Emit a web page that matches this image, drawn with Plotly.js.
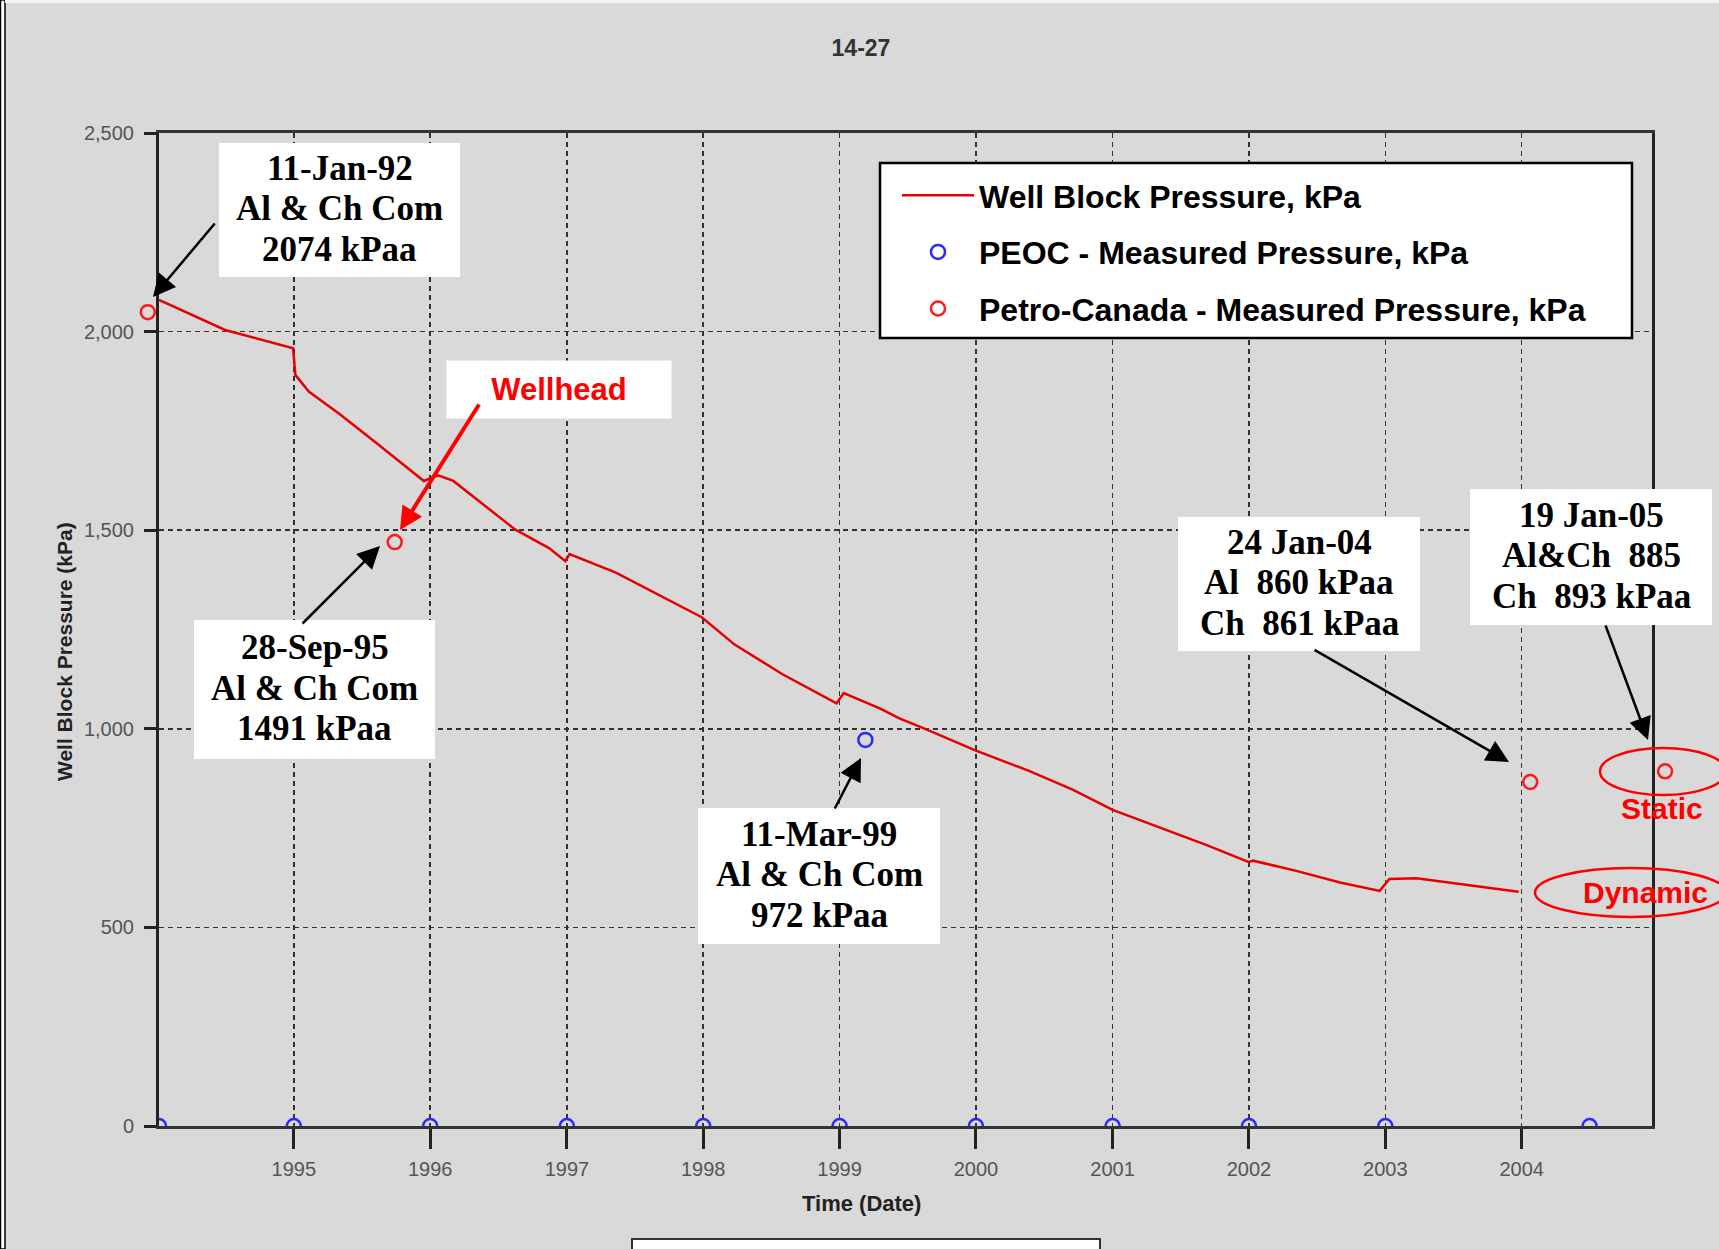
<!DOCTYPE html>
<html><head><meta charset="utf-8">
<script src="https://cdn.plot.ly/plotly-3.0.1.min.js"></script>
<style>html,body{margin:0;padding:0;background:#d9d9d9;} #chart{width:1719px;height:1249px;}</style>
</head><body><div id="chart"></div>
<script>
// ---- data ----
const wbpDates = ['1994-01-05','1994-07-01','1994-12-30','1995-01-05','1995-02-10','1995-05-05','1995-08-15','1995-12-15','1996-01-22','1996-03-03','1996-08-15','1996-11-14','1996-12-28','1997-01-08','1997-05-12','1997-12-28','1998-03-26','1998-07-31','1998-12-24','1999-01-12','1999-04-20','1999-06-10','1999-08-18','2000-01-01','2000-05-22','2000-09-16','2001-01-01','2001-05-16','2001-09-10','2002-01-01','2002-01-12','2002-05-05','2002-09-02','2002-12-17','2003-01-12','2003-03-25','2003-08-25','2003-12-24'];
const wbpPressure = [2080,2004,1958,1891,1849,1791,1716,1624,1638,1624,1502,1455,1422,1440,1393,1281,1212,1138,1064,1090,1051,1026,1000,945,894,847,796,749,707,664,668,643,613,592,622,624,605,590];
const peocDates = ['1994-01-05','1995-01-01','1996-01-01','1997-01-01','1998-01-01','1999-01-01','1999-03-11','2000-01-01','2001-01-01','2002-01-01','2003-01-01','2004-07-01'];
const peocPressure = [0,0,0,0,0,0,972,0,0,0,0,0];
const pcDates = ['1993-12-06','1995-09-28','2004-01-24','2005-01-19'];
const pcPressure = [2049,1470,866,893];
const xTickDates = ['1995-01-01','1996-01-01','1997-01-01','1998-01-01','1999-01-01','2000-01-01','2001-01-01','2002-01-01','2003-01-01','2004-01-01'];
const xTickLabels = ['1995','1996','1997','1998','1999','2000','2001','2002','2003','2004'];
const yTickValues = [0,500,1000,1500,2000,2500];
const seriesNames = ['Well Block Pressure, kPa','PEOC - Measured Pressure, kPa','Petro-Canada - Measured Pressure, kPa'];
const xRange = ['1994-01-05','2004-12-15'];
const yRange = [0,2500];

// ---- geometry helpers (pixel -> paper) ----
const PL=100, PR=1719;            // paper area (margins)
const L=159, R=1652, T=133, B=1126;  // axes box
const PW=PR-PL, H=B-T;
const px = p => (p-PL)/PW;
const py = p => (B-p)/H;

// wider hidden x axis with the same scale, so the markers just outside the box are shown
const t0 = Date.parse(xRange[0]), t1 = Date.parse(xRange[1]);
const msPerPx = (t1-t0)/(R-L);
const x2Range = [t0-(L-PL)*msPerPx, t1+(PR-R)*msPerPx];

const traces = [
  {x: wbpDates, y: wbpPressure, type:'scatter', mode:'lines', name: seriesNames[0],
   line:{color:'#e60000', width:2.5}, legendgroup:'a'},
  {x: peocDates, y: peocPressure, type:'scatter', mode:'markers', name: seriesNames[1],
   marker:{symbol:'circle-open', size:14, color:'#2a2aff', line:{width:2.5}}, legendgroup:'b'},
  {x: pcDates, y: pcPressure, type:'scatter', mode:'markers', name: seriesNames[2], xaxis:'x2', yaxis:'y2',
   marker:{symbol:'circle-open', size:14, color:'#ff1a1a', line:{width:2.5}}, legendgroup:'c'}
];

const serif = {family:'Liberation Serif, Times New Roman, serif', size:35, color:'#000'};
const sans = 'Liberation Sans, Arial, sans-serif';

const boxes = [
  {lines:['11-Jan-92','Al & Ch Com','2074 kPaa'], x0:219, x1:460, y0:143, y1:277},
  {lines:['28-Sep-95','Al & Ch Com','1491 kPaa'], x0:194, x1:435, y0:620, y1:759},
  {lines:['11-Mar-99','Al & Ch Com','972 kPaa'], x0:698, x1:940, y0:808, y1:944},
  {lines:['24 Jan-04','Al\u00a0 860 kPaa','Ch\u00a0 861 kPaa'], x0:1178, x1:1420, y0:517, y1:651},
  {lines:['19 Jan-05','Al&Ch\u00a0 885','Ch\u00a0 893 kPaa'], x0:1470, x1:1712, y0:489, y1:625}
];
const lineOffsets = [-42, -1.5, 39];
const arrows = [
  {hx:153, hy:297, tx:216, ty:222, color:'#000', w:2.5, s:1.8},
  {hx:400, hy:530, tx:480, ty:403, color:'#ff0000', w:4, s:1.15},
  {hx:380, hy:546, tx:301, ty:625, color:'#000', w:2.5, s:1.8},
  {hx:861, hy:758, tx:834, ty:810, color:'#000', w:2.5, s:1.8},
  {hx:1509, hy:762, tx:1313, ty:649, color:'#000', w:2.5, s:1.8},
  {hx:1648, hy:740, tx:1605, ty:624, color:'#000', w:2.5, s:1.8}
];

const annotations = [];
const shapes = [];
boxes.forEach(b => {
  shapes.push({type:'rect', xref:'paper', yref:'paper', x0:px(b.x0), x1:px(b.x1), y0:py(b.y1), y1:py(b.y0),
    fillcolor:'#ffffff', line:{width:0}, layer:'above'});
  const cx=(b.x0+b.x1)/2, cy=(b.y0+b.y1)/2;
  b.lines.forEach((t,i) => annotations.push({
    xref:'paper', yref:'paper', x:px(cx), y:py(cy+lineOffsets[i]), xanchor:'center', yanchor:'middle',
    text:'<b>'+t.replace(/&/g,'&amp;')+'</b>', showarrow:false, font:serif
  }));
});
annotations.push({xref:'paper', yref:'paper', x:px(559), y:py(389.5), xanchor:'center', yanchor:'middle',
  text:'<b>Wellhead</b>', showarrow:false, bgcolor:'#ffffff', borderpad:0, width:224, height:57,
  font:{family:sans, size:31, color:'#ff0000'}});
arrows.forEach(a => annotations.push({
  xref:'paper', yref:'paper', x:px(a.hx), y:py(a.hy), text:'', showarrow:true,
  ax:a.tx-a.hx, ay:a.ty-a.hy, axref:'pixel', ayref:'pixel',
  arrowhead:2, arrowsize:a.s, arrowwidth:a.w, arrowcolor:a.color, standoff:0, startstandoff:0
}));
annotations.push({xref:'paper', yref:'paper', x:px(1662), y:py(808), xanchor:'center', yanchor:'middle',
  text:'<b>Static</b>', showarrow:false, font:{family:sans, size:30, color:'#ff0000'}});
annotations.push({xref:'paper', yref:'paper', x:px(1645), y:py(892), xanchor:'center', yanchor:'middle',
  text:'<b>Dynamic</b>', showarrow:false, font:{family:sans, size:30, color:'#ff0000'}});
// axis titles
annotations.push({xref:'paper', yref:'paper', x:px(861), y:py(1203), xanchor:'center', yanchor:'middle',
  text:'<b>Time (Date)</b>', showarrow:false, font:{family:sans, size:22, color:'#222'}});
annotations.push({xref:'paper', yref:'paper', x:px(64), y:py(652), xanchor:'center', yanchor:'middle',
  text:'<b>Well Block Pressure (kPa)</b>', textangle:-90, showarrow:false, font:{family:sans, size:21, color:'#222'}});

shapes.push(
  // legend box
  {type:'rect', xref:'paper', yref:'paper', x0:px(880), x1:px(1632), y0:py(338), y1:py(163),
   fillcolor:'#ffffff', line:{color:'#000', width:2.5}, layer:'above'},
  // ellipses
  {type:'circle', xref:'paper', yref:'paper', x0:px(1600), x1:px(1726), y0:py(795), y1:py(748),
   line:{color:'#ff0000', width:2.5}, layer:'above'},
  {type:'circle', xref:'paper', yref:'paper', x0:px(1535), x1:px(1726), y0:py(917), y1:py(868),
   line:{color:'#ff0000', width:2.5}, layer:'above'},
  // page border on the left
  {type:'rect', xref:'paper', yref:'paper', x0:px(0.5), x1:px(5), y0:py(1249), y1:py(0),
   fillcolor:'#ffffff', line:{color:'#000', width:1.5}, layer:'above'},
  // top light strip
  {type:'rect', xref:'paper', yref:'paper', x0:px(5), x1:px(1719), y0:py(3), y1:py(0),
   fillcolor:'#f4f4f4', line:{width:0}, layer:'above'},
  // partial box at the bottom
  {type:'rect', xref:'paper', yref:'paper', x0:px(632), x1:px(1100), y0:py(1254), y1:py(1239),
   fillcolor:'#ffffff', line:{color:'#333', width:2}, layer:'above'}
);

const layout = {
  width:1719, height:1249, autosize:false,
  margin:{l:PL, r:1719-PR, t:T, b:1249-B, pad:0},
  paper_bgcolor:'#d9d9d9', plot_bgcolor:'rgba(0,0,0,0)',
  title:{text:'<b>14-27</b>', xref:'container', yref:'container', x:861/1719, y:1-48/1249,
         xanchor:'center', yanchor:'middle', font:{family:sans, size:23, color:'#333'}},
  xaxis:{type:'date', domain:[px(L), px(R)], range:xRange, tickvals:xTickDates, ticktext:xTickLabels,
         ticks:'outside', ticklen:20, tickwidth:3, tickcolor:'#222', ticklabelstandoff:3,
         showline:true, linecolor:'#333', linewidth:3, mirror:true,
         showgrid:true, gridcolor:'#333', gridwidth:1.5, griddash:'5px,4px', zeroline:false,
         tickfont:{family:sans, size:20, color:'#555'}},
  xaxis2:{type:'date', domain:[0,1], range:x2Range, anchor:'y2', visible:false, showgrid:false, zeroline:false},
  yaxis:{range:yRange, anchor:'x', tickvals:yTickValues, tickformat:',',
         ticks:'outside', ticklen:12, tickwidth:3, tickcolor:'#222', ticklabelstandoff:6,
         showline:true, linecolor:'#222', linewidth:3, mirror:true,
         showgrid:true, gridcolor:'#333', gridwidth:1.5, griddash:'5px,4px', zeroline:false,
         tickfont:{family:sans, size:20, color:'#555'}},
  yaxis2:{range:yRange, domain:[0,1], anchor:'x2', visible:false, showgrid:false, zeroline:false},
  showlegend:true,
  legend:{x:px(897), y:py(168), xanchor:'left', yanchor:'top', bgcolor:'rgba(0,0,0,0)', borderwidth:0,
          traceorder:'grouped', tracegroupgap:12, itemwidth:72,
          font:{family:sans, size:32, color:'#000', weight:'bold'}},
  annotations:annotations,
  shapes:shapes
};

Plotly.newPlot('chart', traces, layout, {displayModeBar:false, staticPlot:true});
</script>
</body></html>
